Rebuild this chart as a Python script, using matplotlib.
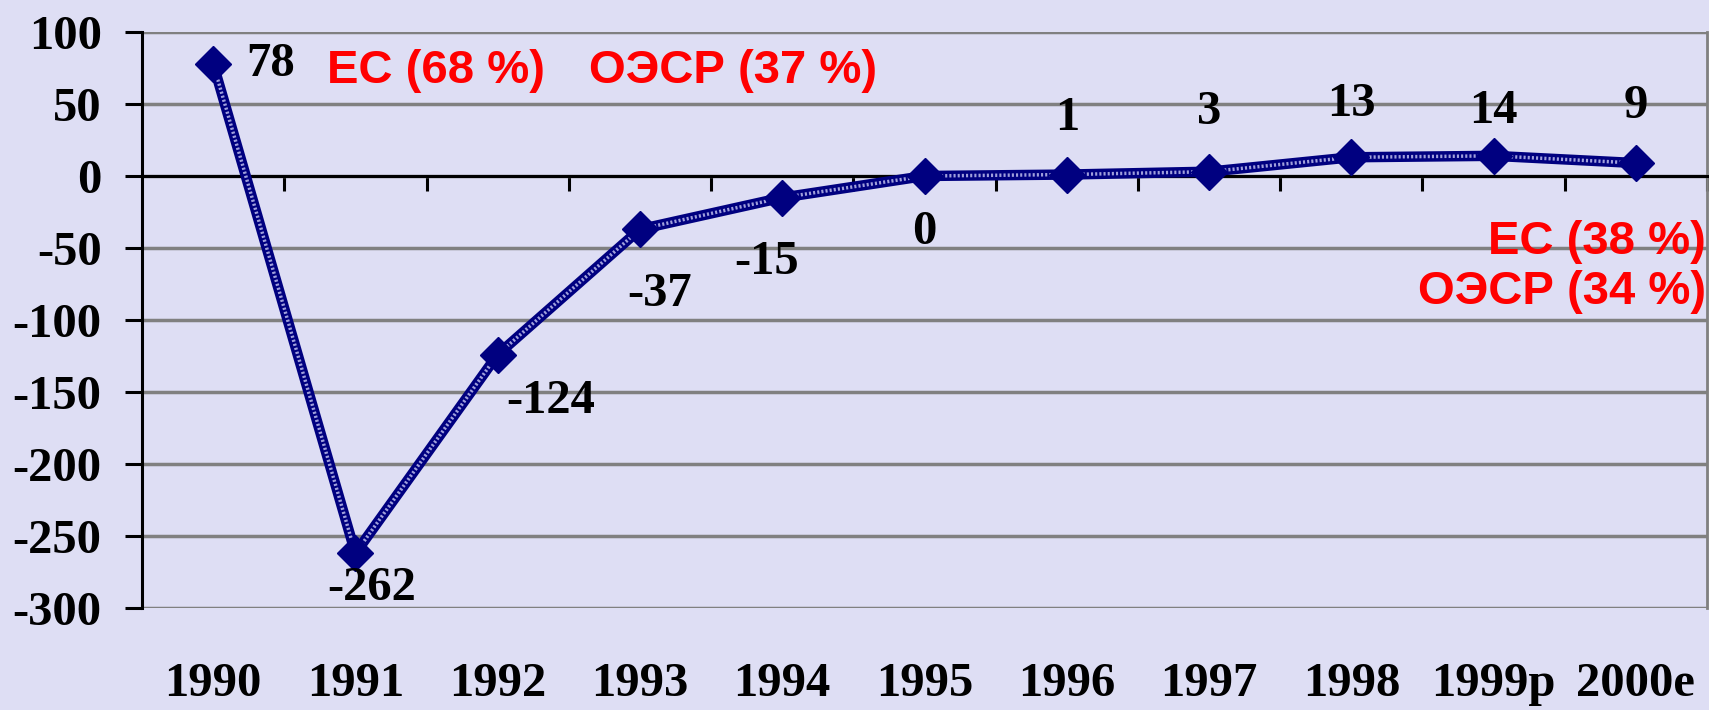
import matplotlib
matplotlib.use('Agg')
import matplotlib.pyplot as plt

# данные
years = ['1990', '1991', '1992', '1993', '1994', '1995', '1996', '1997', '1998', '1999p', '2000e']
values = [78, -262, -124, -37, -15, 0, 1, 3, 13, 14, 9]
# смещение подписей (в пикселях)
label_dx = [57, 16, 53, 20, -16, 0, 0, 0, 0, 0, 0]
label_dy = [0, -35, -46, -65, -64, -56, 57, 60, 53, 45, 57]

bg = '#dedef4'
navy = '#000080'
serif = 'Liberation Serif'
sans = 'Liberation Sans'

fig = plt.figure(figsize=(17.09, 7.10), dpi=100, facecolor=bg)
ax = fig.add_axes([142/1709, 1 - 608/710, 1565/1709, 576/710])
ax.set_facecolor(bg)

x = list(range(len(years)))
ax.plot(x, values, color=navy, lw=7.5, solid_capstyle='round', zorder=3)
ax.plot(x, values, color='#a0a0dc', lw=2.5, linestyle=(0, (0.6, 0.6)), zorder=4)
ax.plot(x, values, linestyle='none', marker='D', ms=18, color=navy, zorder=5)

for i, v in enumerate(values):
    ax.annotate(str(v), (i, v), xytext=(label_dx[i] * 0.72, label_dy[i] * 0.72),
                textcoords='offset points', ha='center', va='center',
                fontsize=35, fontweight='bold', family=serif, zorder=6)

# оси
ax.set_xlim(-0.5, len(years) - 0.5)
ax.set_ylim(-300, 100)
ax.set_yticks(range(-300, 101, 50))
ax.set_yticklabels([str(t) for t in range(-300, 101, 50)], fontsize=35,
                   fontweight='bold', family=serif)
ax.tick_params(axis='y', direction='out', length=12, width=2.2, pad=17, color='black')
ax.yaxis.grid(True, color='#808080', lw=2.5)
ax.set_axisbelow(True)

ax.spines['bottom'].set_position(('data', 0))
ax.spines['bottom'].set_linewidth(2.2)
ax.spines['left'].set_linewidth(2.2)
ax.spines['top'].set_visible(False)
ax.spines['right'].set_color('#808080')
ax.spines['right'].set_linewidth(2)
ax.set_xticks([i + 0.5 for i in range(len(years))])
ax.set_xticklabels([])
ax.tick_params(axis='x', direction='out', length=11, width=2.2, color='black')

for i, yr in enumerate(years):
    ax.text(i, -0.132, yr, transform=ax.get_xaxis_transform(), ha='center', va='center',
            fontsize=35, fontweight='bold', family=serif)

# подписи ЕС / ОЭСР
red_kw = dict(color='red', fontsize=34, fontweight='bold', family=sans, va='center')
fig.text(327/1709, 1 - 71/710, 'ЕС (68 %)', ha='left', **red_kw)
fig.text(589/1709, 1 - 71/710, 'ОЭСР (37 %)', ha='left', **red_kw)
fig.text(1706/1709, 1 - 242/710, 'ЕС (38 %)', ha='right', **red_kw)
fig.text(1706/1709, 1 - 292/710, 'ОЭСР (34 %)', ha='right', **red_kw)

fig.savefig('out.png', dpi=100, facecolor=bg)
